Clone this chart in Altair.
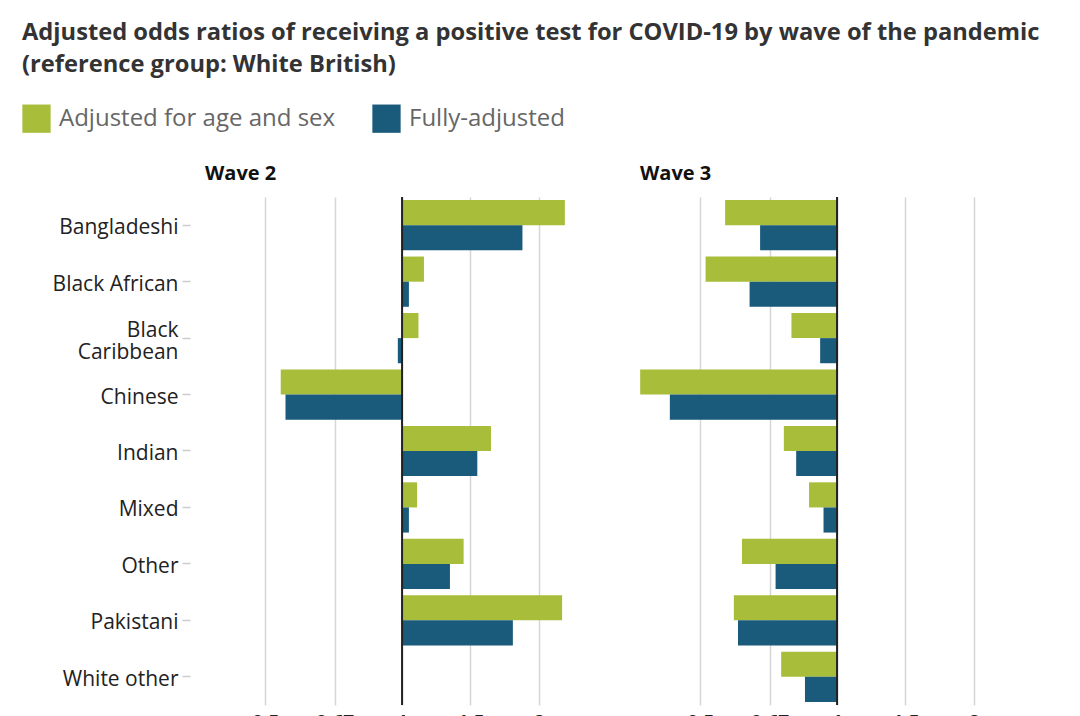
import altair as alt
import pandas as pd

ethnicities = ["Bangladeshi", "Black African", "Black Caribbean", "Chinese", "Indian",
               "Mixed", "Other", "Pakistani", "White other"]
series = ["Adjusted for age and sex", "Fully-adjusted"]
colors = ["#A8BD3A", "#1A5A7A"]

wave2_age_sex = [2.19, 1.16, 1.12, 0.53, 1.65, 1.11, 1.45, 2.17, 1.00]
wave2_full = [1.88, 1.05, 0.97, 0.54, 1.55, 1.05, 1.35, 1.81, 1.00]
wave3_age_sex = [0.55, 0.51, 0.75, 0.41, 0.72, 0.83, 0.59, 0.57, 0.71]
wave3_full = [0.64, 0.61, 0.89, 0.45, 0.77, 0.91, 0.69, 0.58, 0.81]

tick_values = [0.5, 0.67, 1, 1.5, 2]
tick_labels = ["0.5", "0.67", "1", "1.5", "2"]

rows = []
for wave, a, f in [("Wave 2", wave2_age_sex, wave2_full), ("Wave 3", wave3_age_sex, wave3_full)]:
    for e, va, vf in zip(ethnicities, a, f):
        rows.append({"wave": wave, "ethnicity": e, "series": series[0], "value": va})
        rows.append({"wave": wave, "ethnicity": e, "series": series[1], "value": vf})
df = pd.DataFrame(rows)
ref_df = pd.DataFrame({"value": [1.0]})

# symmetric odds-ratio scale: 1/2 and 2 equally far from 1
POS = "datum.value >= 1 ? datum.value - 1 : 1 - 1 / datum.value"
tick_pos = [v - 1 if v >= 1 else 1 - 1 / v for v in tick_values]
tick_pos = [round(t, 3) for t in tick_pos]
label_expr = " : ".join(
    f"abs(datum.value - ({p})) < 0.02 ? '{l}'" for p, l in zip(tick_pos, tick_labels)
) + " : ''"

FONT = "Open Sans"
xscale = alt.Scale(domain=[-1.55, 1.52], nice=False, zero=False)
xaxis = alt.Axis(values=tick_pos, labelExpr=label_expr, grid=True, gridColor="#d6d6d6",
                 gridWidth=1.5, ticks=False, domain=False, title=None, labelFontSize=19,
                 labelColor="#222", labelFont=FONT, labelFontWeight="bold", labelPadding=8)


def panel(wave, show_y):
    yaxis = alt.Axis(title=None, domain=False, ticks=True, tickColor="#cccccc", tickSize=8,
                     tickWidth=1.5, labelFontSize=21, labelColor="#222", labelFont=FONT,
                     labelPadding=4, labelLimit=300,
                     labelExpr="datum.label == 'Black Caribbean' ? ['Black', 'Caribbean'] : datum.label",
                     labelOffset={"condition": {"test": "datum.label == 'Black Caribbean'", "value": -7},
                                  "value": 3},
                     labelLineHeight=22) if show_y else None
    bars = alt.Chart(df).transform_filter(alt.datum.wave == wave).transform_calculate(
        pos=POS
    ).mark_bar().encode(
        x=alt.X("pos:Q", scale=xscale, axis=xaxis),
        y=alt.Y("ethnicity:N", sort=ethnicities, axis=yaxis,
                scale=alt.Scale(paddingInner=0.11, paddingOuter=0.055)),
        yOffset=alt.YOffset("series:N", sort=series),
        color=alt.Color("series:N", sort=series,
                        scale=alt.Scale(domain=series, range=colors),
                        legend=alt.Legend(title=None, orient="none", direction="horizontal",
                                          legendX=-168, legendY=-93, symbolType="square",
                                          symbolSize=800, symbolStrokeWidth=0,
                                          labelFontSize=24, labelColor="#666", labelFont=FONT,
                                          labelLimit=500, columnPadding=36, symbolOffset=0,
                                          labelOffset=8)),
    )
    rule = alt.Chart(ref_df).transform_calculate(pos=POS).mark_rule(
        color="#222", strokeWidth=2
    ).encode(x=alt.X("pos:Q", scale=xscale, axis=xaxis))
    return alt.layer(bars, rule).properties(
        width=420, height=508,
        title=alt.TitleParams(wave, anchor="start", frame="group", dx=15, fontSize=20,
                              fontWeight="bold", color="#111", font=FONT, offset=12),
    )


chart = alt.hconcat(panel("Wave 2", True), panel("Wave 3", False), spacing=15).properties(
    title=alt.TitleParams(
        ["Adjusted odds ratios of receiving a positive test for COVID-19 by wave of the pandemic",
         "(reference group: White British)"],
        anchor="start", fontSize=23.7, fontWeight="bold", color="#333", font=FONT,
        lineHeight=32, offset=27, frame="bounds"),
    padding={"left": 14, "top": 13, "right": 5, "bottom": 5},
    background="white",
).configure_view(stroke=None)

chart.save("out.html", embed_options={"renderer": "svg", "actions": False})
